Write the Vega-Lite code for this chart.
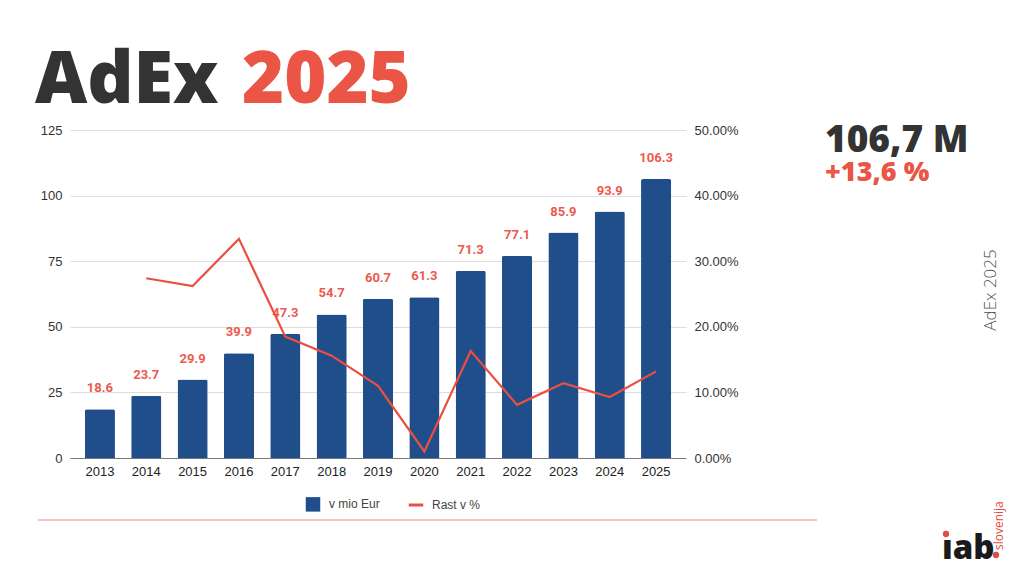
{
  "$schema": "https://vega.github.io/schema/vega-lite/v6.json",
  "width": 616,
  "height": 328,
  "autosize": "none",
  "padding": {"left": 70, "top": 130, "right": 338, "bottom": 118},
  "background": "#ffffff",
  "config": {
    "view": {"stroke": null},
    "font": "Liberation Sans",
    "axis": {"labelFont": "Liberation Sans", "labelFontSize": 13, "labelColor": "#333333", "ticks": false, "domain": false, "title": null}
  },
  "datasets": {
    "adex": [
      {"leto": "2013", "mio": 18.6, "rast": null},
      {"leto": "2014", "mio": 23.7, "rast": 0.274},
      {"leto": "2015", "mio": 29.9, "rast": 0.262},
      {"leto": "2016", "mio": 39.9, "rast": 0.334},
      {"leto": "2017", "mio": 47.3, "rast": 0.185},
      {"leto": "2018", "mio": 54.7, "rast": 0.156},
      {"leto": "2019", "mio": 60.7, "rast": 0.110},
      {"leto": "2020", "mio": 61.3, "rast": 0.010},
      {"leto": "2021", "mio": 71.3, "rast": 0.163},
      {"leto": "2022", "mio": 77.1, "rast": 0.081},
      {"leto": "2023", "mio": 85.9, "rast": 0.114},
      {"leto": "2024", "mio": 93.9, "rast": 0.093},
      {"leto": "2025", "mio": 106.3, "rast": 0.132}
    ]
  },
  "layer": [
    {
      "data": {"name": "adex"},
      "encoding": {
        "x": {
          "field": "leto", "type": "ordinal",
          "scale": {"paddingInner": 0.35, "paddingOuter": 0.32},
          "axis": {"labelAngle": 0, "labelPadding": 7, "domain": true, "domainColor": "#777777", "domainWidth": 1.2, "labelColor": "#222222"}
        }
      },
      "layer": [
        {
          "mark": {"type": "bar", "cornerRadiusTopLeft": 2, "cornerRadiusTopRight": 2},
          "encoding": {
            "y": {
              "field": "mio", "type": "quantitative",
              "scale": {"domain": [0, 125], "nice": false},
              "axis": {"values": [0, 25, 50, 75, 100, 125], "grid": true, "gridColor": "#dddddd", "gridWidth": 1.2, "labelPadding": 8, "orient": "left"}
            },
            "color": {
              "datum": "v mio Eur", "type": "nominal",
              "scale": {"domain": ["v mio Eur", "Rast v %"], "range": ["#1f4e8b", "#ea4f3f"]},
              "legend": {
                "title": null,
                "orient": "none",
                "direction": "horizontal",
                "legendX": 237,
                "legendY": 368,
                "labelFont": "Liberation Sans",
                "labelFontSize": 12,
                "labelColor": "#444444",
                "symbolSize": 210,
                "labelOffset": 10,
                "columnPadding": 22,
                "encode": {
                  "symbols": {
                    "update": {
                      "shape": {"signal": "datum.value === 'Rast v %' ? 'stroke' : 'square'"},
                      "fill": {"signal": "datum.value === 'Rast v %' ? 'transparent' : '#1f4e8b'"},
                      "stroke": {"signal": "datum.value === 'Rast v %' ? '#ea4f3f' : '#1f4e8b'"},
                      "strokeWidth": {"signal": "datum.value === 'Rast v %' ? 3 : 0"},
                      "opacity": {"value": 1}
                    }
                  }
                }
              }
            }
          }
        },
        {
          "mark": {"type": "text", "dy": -14, "font": "Roboto", "fontWeight": "bold", "fontSize": 13, "color": "#ec5a4f", "baseline": "bottom"},
          "encoding": {
            "y": {"field": "mio", "type": "quantitative", "scale": {"domain": [0, 125], "nice": false}, "axis": null},
            "text": {"field": "mio", "type": "quantitative", "format": ".1f"}
          }
        },
        {
          "mark": {"type": "line", "strokeWidth": 2.2, "strokeJoin": "miter"},
          "encoding": {
            "y": {
              "field": "rast", "type": "quantitative",
              "scale": {"domain": [0, 0.5], "nice": false},
              "axis": {"orient": "right", "values": [0, 0.1, 0.2, 0.3, 0.4, 0.5], "format": ".2%", "grid": false, "labelPadding": 8}
            },
            "color": {"datum": "Rast v %", "type": "nominal"}
          }
        }
      ],
      "resolve": {"scale": {"y": "independent"}}
    },
    {
      "data": {"values": [{"t": "AdEx"}]},
      "mark": {"type": "text", "align": "left", "baseline": "alphabetic", "font": "Open Sans", "fontWeight": 800, "fontSize": 72, "color": "#333333", "x": -35, "y": -27},
      "encoding": {"text": {"field": "t"}}
    },
    {
      "data": {"values": [{"t": "2025"}]},
      "mark": {"type": "text", "align": "left", "baseline": "alphabetic", "font": "Open Sans", "fontWeight": 800, "fontSize": 72, "color": "#ea5546", "x": 172, "y": -27},
      "encoding": {"text": {"field": "t"}}
    },
    {
      "data": {"values": [{"t": "106,7 M"}]},
      "mark": {"type": "text", "align": "left", "baseline": "alphabetic", "font": "Open Sans", "fontWeight": 800, "fontSize": 37, "color": "#333333", "x": 755, "y": 22},
      "encoding": {"text": {"field": "t"}}
    },
    {
      "data": {"values": [{"t": "+13,6 %"}]},
      "mark": {"type": "text", "align": "left", "baseline": "alphabetic", "font": "Open Sans", "fontWeight": 800, "fontSize": 27, "color": "#ea5546", "x": 755, "y": 51},
      "encoding": {"text": {"field": "t"}}
    },
    {
      "data": {"values": [{"t": "AdEx 2025"}]},
      "mark": {"type": "text", "align": "center", "baseline": "middle", "angle": 270, "font": "Open Sans", "fontWeight": 300, "fontSize": 17, "color": "#555555", "x": 921, "y": 160},
      "encoding": {"text": {"field": "t"}}
    },
    {
      "data": {"values": [{"a": 0}]},
      "mark": {"type": "rule", "color": "#f7b1aa", "strokeWidth": 1.5},
      "encoding": {"x": {"value": -32}, "x2": {"value": 747}, "y": {"value": 390}}
    },
    {
      "data": {"values": [{"t": "ıab"}]},
      "mark": {"type": "text", "align": "left", "baseline": "alphabetic", "font": "Open Sans", "fontWeight": 800, "fontSize": 33, "color": "#1a1a1a", "x": 872, "y": 429},
      "encoding": {"text": {"field": "t"}}
    },
    {
      "data": {"values": [{"t": "slovenija"}]},
      "mark": {"type": "text", "align": "left", "baseline": "middle", "angle": 270, "font": "Open Sans", "fontWeight": 400, "fontSize": 12, "color": "#e84a3c", "x": 929, "y": 420},
      "encoding": {"text": {"field": "t"}}
    },
    {
      "data": {"values": [{"d": "i"}]},
      "mark": {"type": "circle", "color": "#e84a3c", "opacity": 1, "size": 40, "x": 876, "y": 404},
      "encoding": {}
    },
    {
      "data": {"values": [{"d": "b"}]},
      "mark": {"type": "circle", "color": "#e84a3c", "opacity": 1, "size": 40, "x": 926, "y": 425},
      "encoding": {}
    }
  ]
}
